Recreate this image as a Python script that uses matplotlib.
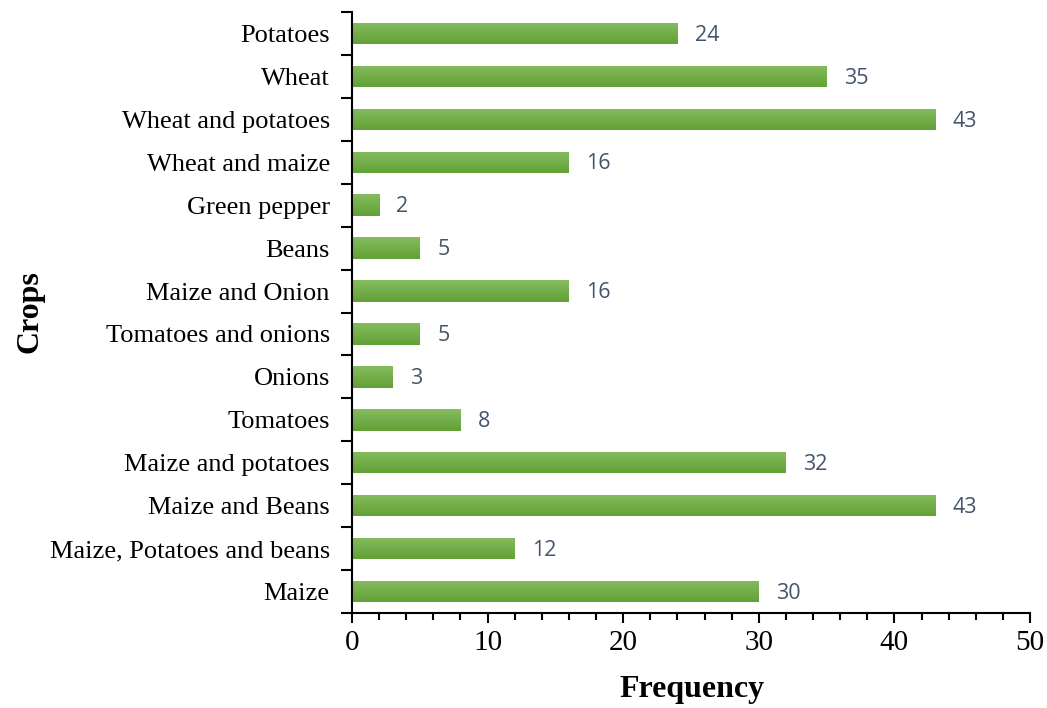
import matplotlib
matplotlib.use("Agg")
import matplotlib.pyplot as plt
import numpy as np
from matplotlib.ticker import MultipleLocator, FixedLocator
from matplotlib.colors import LinearSegmentedColormap

crops = ["Potatoes", "Wheat", "Wheat and potatoes", "Wheat and maize",
         "Green pepper", "Beans", "Maize and Onion", "Tomatoes and onions",
         "Onions", "Tomatoes", "Maize and potatoes", "Maize and Beans",
         "Maize, Potatoes and beans", "Maize"]
frequency = [24, 35, 43, 16, 2, 5, 16, 5, 3, 8, 32, 43, 12, 30]

serif = "Liberation Serif"
fig = plt.figure(figsize=(10.47, 7.08), dpi=100)
ax = fig.add_axes([0.3362, 0.1342, 0.6476, 0.8488])

n = len(crops)
pos = np.arange(n)[::-1]
bars = ax.barh(pos, frequency, height=0.5, color="#72ad48", edgecolor="none")

# vertical light-to-dark green fill inside each bar
grad = LinearSegmentedColormap.from_list("g", ["#86bb5e", "#62a137"])
gimg = np.linspace(0, 1, 64).reshape(-1, 1)
for b in bars:
    x0, y0 = b.get_x(), b.get_y()
    w, h = b.get_width(), b.get_height()
    im = ax.imshow(gimg, cmap=grad, aspect="auto", origin="upper",
                   extent=(x0, x0 + w, y0, y0 + h), zorder=2)
    im.set_clip_path(b)

for p, v in zip(pos, frequency):
    ax.annotate(str(v), (v, p), xytext=(12.5, -1.2), textcoords="offset points",
                va="center", ha="left", fontsize=15.5, color="#44546a",
                family="Open Sans")

ax.set_xlim(0, 50)
ax.set_ylim(-0.5, n - 0.5)
ax.set_aspect("auto")

for s in ("top", "right"):
    ax.spines[s].set_visible(False)
for s in ("left", "bottom"):
    ax.spines[s].set_linewidth(1.5)

ax.xaxis.set_major_locator(MultipleLocator(10))
ax.xaxis.set_minor_locator(MultipleLocator(2))
ax.tick_params(axis="x", which="major", direction="out", length=7, width=1.5,
               labelsize=21, pad=5)
ax.tick_params(axis="x", which="minor", direction="out", length=5, width=1.5)

ax.set_yticks(pos)
ax.set_yticklabels(crops)
ax.yaxis.set_minor_locator(FixedLocator(np.arange(n + 1) - 0.5))
ax.tick_params(axis="y", which="major", length=0, labelsize=19, pad=16)
ax.tick_params(axis="y", which="minor", direction="out", length=8, width=1.5)

for lab in ax.get_xticklabels() + ax.get_yticklabels():
    lab.set_family(serif)

ax.set_xlabel("Frequency", family=serif, fontsize=23, fontweight="bold")
ax.set_ylabel("Crops", family=serif, fontsize=23, fontweight="bold")
ax.xaxis.set_label_coords(692 / 1047, 1 - 690 / 708, transform=fig.transFigure)
ax.yaxis.set_label_coords(30 / 1047, 1 - 312 / 708, transform=fig.transFigure)
ax.xaxis.label.set_va("center")
ax.yaxis.label.set_va("center")

fig.savefig("out.png", dpi=100)
